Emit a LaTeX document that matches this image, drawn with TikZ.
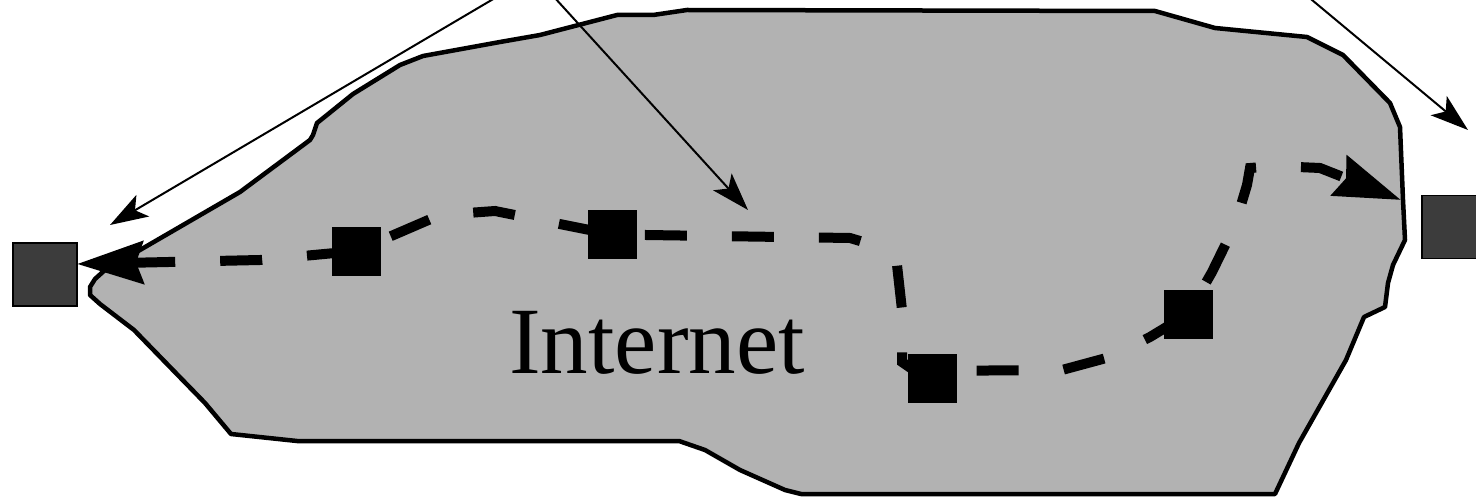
\documentclass[tikz,border=0pt]{standalone}
\usepackage{fontspec}
\setmainfont{Liberation Serif}
\usetikzlibrary{arrows.meta}
\pgfdeclarelayer{bg}
\pgfdeclarelayer{mid}
\pgfsetlayers{bg,mid,main}
\definecolor{cloudgray}{HTML}{B2B2B2}
\definecolor{hostgray}{HTML}{3C3C3C}
\tikzset{
  cloud/.style={fill=cloudgray, draw=black, line width=4.5pt, line join=round},
  hostbox/.style={draw=black, line width=1.5pt, fill=hostgray, minimum width=64pt, minimum height=63pt, inner sep=0pt},
  router/.style={fill=black, draw=black, minimum width=48pt, minimum height=48pt, inner sep=0pt},
  netpath/.style={line width=10pt, dash pattern=on 42pt off 45pt, line join=miter,
    {Stealth[length=66pt, width=42pt, inset=7pt]}-{Stealth[length=66pt, width=42pt, inset=7pt]}},
  pointer/.style={line width=2pt, -{Stealth[length=38pt, width=25pt, inset=9pt]}},
}
\begin{document}
\begin{tikzpicture}[x=1pt, y=-1pt]
\useasboundingbox (0,0) rectangle (1476,497);
\begin{pgfonlayer}{bg}
\clip (0,0) rectangle (1476,497);
\fill[white] (0,0) rectangle (1476,497);
\draw[cloud] (90,295) -- (100,304) -- (134,330) -- (205,403) -- (231,434) -- (297,441)
  -- (679,441) -- (705,450) -- (740,470) -- (785,490) -- (801,494) -- (1275,494)
  -- (1299,443) -- (1346,360) -- (1364,317) -- (1385,307) -- (1388,283) -- (1393,265)
  -- (1405,240) -- (1403,200) -- (1400,127) -- (1390,103) -- (1343,55) -- (1307,37)
  -- (1215,28) -- (1155,11) -- (687,10) -- (653,15) -- (617,15) -- (540,35) -- (500,42)
  -- (423,56) -- (400,65) -- (353,94) -- (327,115) -- (317,123) -- (313,135) -- (310,140)
  -- (240,192) -- (140,250) -- (105,270) -- (95,279) -- (90,287) -- cycle;
\end{pgfonlayer}
\clip (0,0) rectangle (1476,497);
% hosts
\node[hostbox] (hostL) at (45,274.5) {};
\node[hostbox] (hostR) at (1454,227) {};
% routers
\node[router] (r1) at (356.5,251) {};
\node[router] (r2) at (612,234.5) {};
\node[router] (r3) at (932,378) {};
\node[router] (r4) at (1188,314) {};
\coordinate (tipL) at (77,264);
\coordinate (tipR) at (1401,200);
% dashed route
\begin{pgfonlayer}{mid}
\draw[netpath] (tipL) -- (260,260) -- (r1.center) -- (440,215) -- (495,211) -- (r2.center)
  -- (850,238) -- (870,244) -- (897,265) -- (902,310) -- (902,362) -- (915,371)
  -- (1062,370) -- (1110,357) -- (1150,337) -- (r4.center) -- (1212,272) -- (1235,225)
  -- (1247,185) -- (1250,168) -- (1275,166) -- (1320,168) -- (tipR);
\end{pgfonlayer}
% label
\node[anchor=base, inner sep=0pt, font=\fontsize{95}{100}\selectfont] (lbl) at (657,373) {Internet};
% pointers
\coordinate (srcA) at (534,-25);
\coordinate (srcB) at (1282,-25);
\coordinate (tA) at (110,225);
\coordinate (tB) at (748,210);
\coordinate (tC) at (1468,130);
\draw[pointer] (srcA) -- (tA);
\draw[pointer] (srcA) -- (tB);
\draw[pointer] (srcB) -- (tC);
\end{tikzpicture}
\end{document}
